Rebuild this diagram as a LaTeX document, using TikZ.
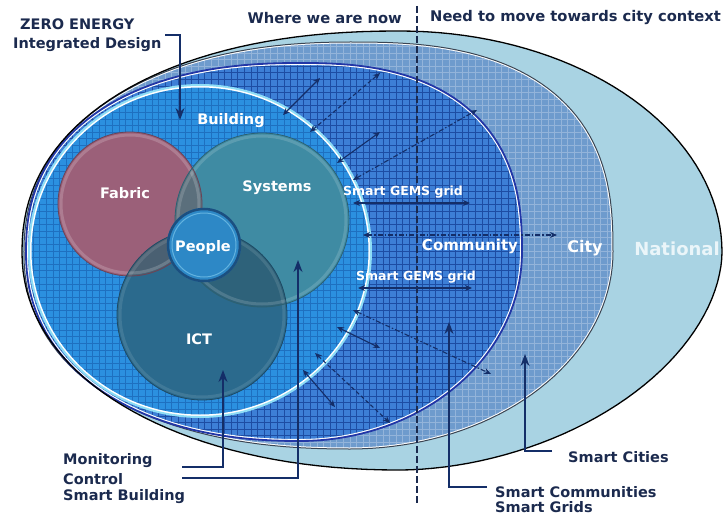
\documentclass[tikz,border=0pt]{standalone}
\usepackage{fontspec}
\setmainfont{DejaVu Sans}
\usetikzlibrary{arrows.meta}
\definecolor{navy}{HTML}{1B2A4E}
\definecolor{arrc}{HTML}{142E68}
\definecolor{natc}{HTML}{A9D3E3}
\definecolor{cityc}{HTML}{6E9BCD}
\definecolor{cityg}{HTML}{93B4DA}
\definecolor{cityb}{HTML}{3A4452}
\definecolor{comc}{HTML}{3D7FD6}
\definecolor{comg}{HTML}{1D4DA3}
\definecolor{comb}{HTML}{2236A6}
\definecolor{bldc}{HTML}{2B90E0}
\definecolor{bldg}{HTML}{1E70C0}
\definecolor{bldb}{HTML}{8EDDF6}
\definecolor{fabc}{HTML}{9B6079}
\definecolor{sysc}{HTML}{3F8BA3}
\definecolor{ictc}{HTML}{2B6A8D}
\definecolor{fsc}{HTML}{5B6F7C}
\definecolor{fic}{HTML}{4A6072}
\definecolor{sic}{HTML}{2E627A}
\definecolor{pplc}{HTML}{2D88C6}
\definecolor{pplb}{HTML}{1B4F80}
\definecolor{natt}{HTML}{EAF5F9}
\newcommand\pw[2]{pow(max(abs(#1),0.0001),#2)}
\tikzset{
 natP/.style={insert path={
  plot[domain=0:90,samples=40,variable=\t]({400+322*\pw{cos(\t)}{1}},{252-221*\pw{sin(\t)}{1}})
  -- plot[domain=90:180,samples=40,variable=\t]({400-378*\pw{cos(\t)}{0.909}},{252-221*\pw{sin(\t)}{0.909}})
  -- plot[domain=180:270,samples=40,variable=\t]({400-378*\pw{cos(\t)}{0.952}},{252+218*\pw{sin(\t)}{0.952}})
  -- plot[domain=270:360,samples=40,variable=\t]({400+322*\pw{cos(\t)}{1.081}},{252+218*\pw{sin(\t)}{1.081}}) -- cycle}},
 cityP/.style={insert path={
  plot[domain=0:90,samples=40,variable=\t]({350+263*\pw{cos(\t)}{0.769}},{252-210*\pw{sin(\t)}{0.769}})
  -- plot[domain=90:180,samples=40,variable=\t]({350-326*\pw{cos(\t)}{0.909}},{252-210*\pw{sin(\t)}{0.909}})
  -- plot[domain=180:270,samples=40,variable=\t]({350-326*\pw{cos(\t)}{0.889}},{252+197*\pw{sin(\t)}{0.889}})
  -- plot[domain=270:360,samples=40,variable=\t]({350+263*\pw{cos(\t)}{1}},{252+197*\pw{sin(\t)}{1}}) -- cycle}},
 comP/.style={insert path={
  plot[domain=0:90,samples=40,variable=\t]({300+222*\pw{cos(\t)}{0.8}},{252-189*\pw{sin(\t)}{0.8}})
  -- plot[domain=90:180,samples=40,variable=\t]({300-274*\pw{cos(\t)}{0.8696}},{252-189*\pw{sin(\t)}{0.8696}})
  -- plot[domain=180:270,samples=40,variable=\t]({300-274*\pw{cos(\t)}{0.909}},{252+189*\pw{sin(\t)}{0.909}})
  -- plot[domain=270:360,samples=40,variable=\t]({300+222*\pw{cos(\t)}{1}},{252+189*\pw{sin(\t)}{1}}) -- cycle}},
 bldP/.style={insert path={(200,251) ellipse[x radius=171pt, y radius=166pt]}},
 lab/.style={inner sep=0pt, anchor=west, text=navy, font=\bfseries\fontsize{14.5}{16}\selectfont},
 wlab/.style={inner sep=0pt, text=white, font=\bfseries\fontsize{14.5}{16}\selectfont},
 slab/.style={inner sep=0pt, text=white, font=\bfseries\fontsize{12.5}{14}\selectfont},
 dbl/.style={arrc, line width=1.1pt, {Stealth[length=7pt,width=6pt]}-{Stealth[length=7pt,width=6pt]}},
 dsh/.style={dash pattern=on 4pt off 2.5pt},
 ddot/.style={dash pattern=on 5pt off 2pt on 1.5pt off 2pt},
 ptr/.style={arrc, line width=1.3pt, -{Stealth[length=12pt,width=9pt]}},
}
\begin{document}
\begin{tikzpicture}[x=1pt,y=-1pt]
\useasboundingbox (0,0) rectangle (725,516);
% National
\fill[natc, natP];
% City
\begin{scope}
 \clip[cityP];
 \fill[cityc] (0,0) rectangle (725,516);
 \draw[cityg, line width=0.5pt] (0,0) grid[step=6.6pt] (725,516);
 \draw[white, line width=3pt, cityP];
\end{scope}
\draw[cityb, line width=1pt, cityP];
% Community
\begin{scope}
 \clip[comP];
 \fill[comc] (0,0) rectangle (725,516);
 \draw[comg, line width=0.5pt] (0,0) grid[step=6.6pt] (725,516);
 \draw[white, line width=4pt, comP];
\end{scope}
\draw[comb, line width=1.8pt, comP];
% Building
\begin{scope}
 \clip[bldP];
 \fill[bldc] (0,0) rectangle (725,516);
 \draw[bldg, line width=0.45pt] (0,0) grid[step=6.6pt] (725,516);
 \draw[white, line width=5pt, bldP];
\end{scope}
\draw[bldb, line width=2pt, bldP];
% National outline
\draw[black, line width=1.3pt, natP];
% Venn circles
\fill[fabc] (130,204) circle[radius=72pt];
\fill[sysc] (262,220) circle[radius=87pt];
\fill[ictc] (202,315) circle[radius=85pt];
\begin{scope}
 \clip (130,204) circle[radius=72pt];
 \fill[fsc] (262,220) circle[radius=87pt];
 \fill[fic] (202,315) circle[radius=85pt];
\end{scope}
\begin{scope}
 \clip (262,220) circle[radius=87pt];
 \fill[sic] (202,315) circle[radius=85pt];
\end{scope}
\draw[white, opacity=0.18, line width=3pt] (130,204) circle[radius=69pt];
\draw[white, opacity=0.15, line width=3pt] (262,220) circle[radius=84pt];
\draw[white, opacity=0.10, line width=3pt] (202,315) circle[radius=82pt];
\draw[fabc!70!black, line width=0.8pt] (130,204) circle[radius=72pt];
\draw[sysc!70!black, line width=0.8pt] (262,220) circle[radius=87pt];
\draw[ictc!70!black, line width=0.8pt] (202,315) circle[radius=85pt];
% People
\fill[pplc] (204,245) circle[radius=37pt];
\draw[pplb, line width=2.5pt] (204,245) circle[radius=36pt];
\draw[cyan!40!white, opacity=0.5, line width=1pt] (204,245) circle[radius=32pt];
% vertical dashed divider
\coordinate (vt) at (417,6);
\coordinate (vb) at (417,505);
\draw[navy, line width=2.3pt, dash pattern=on 7pt off 3pt] (vt) -- (vb);
% diagonal and horizontal double arrows
\coordinate (a1s) at (283,115); \coordinate (a1e) at (320,78);
\coordinate (a2s) at (310,132); \coordinate (a2e) at (380,73);
\coordinate (a3s) at (337,163); \coordinate (a3e) at (380,132);
\coordinate (a4s) at (353,180); \coordinate (a4e) at (477,110);
\coordinate (h1s) at (353,203); \coordinate (h1e) at (470,203);
\coordinate (h2s) at (363,235); \coordinate (h2e) at (557,235);
\coordinate (h3s) at (358,288); \coordinate (h3e) at (472,288);
\coordinate (b1s) at (353,310); \coordinate (b1e) at (491,374);
\coordinate (b2s) at (337,327); \coordinate (b2e) at (380,348);
\coordinate (b3s) at (315,353); \coordinate (b3e) at (390,423);
\coordinate (b4s) at (303,370); \coordinate (b4e) at (335,407);
\draw[dbl] (a1s) -- (a1e);
\draw[dbl, dsh] (a2s) -- (a2e);
\draw[dbl] (a3s) -- (a3e);
\draw[dbl, ddot] (a4s) -- (a4e);
\draw[dbl] (h1s) -- (h1e);
\draw[dbl, ddot] (h2s) -- (h2e);
\draw[dbl] (h3s) -- (h3e);
\draw[dbl, ddot] (b1s) -- (b1e);
\draw[dbl] (b2s) -- (b2e);
\draw[dbl, dsh] (b3s) -- (b3e);
\draw[dbl] (b4s) -- (b4e);
% white labels
\node[wlab] (tbld) at (231,121) {Building};
\node[wlab] (tfab) at (125,193) {Fabric};
\node[wlab] (tsys) at (277,188) {Systems};
\node[wlab] (tppl) at (203,247) {People};
\node[wlab] (tict) at (199,339) {ICT};
\node[slab] (tg1) at (403,192) {Smart GEMS grid};
\node[slab] (tg2) at (416,277) {Smart GEMS grid};
\node[wlab, font=\bfseries\fontsize{15}{16}\selectfont] (tcom) at (470,246) {Community};
\node[wlab, font=\bfseries\fontsize{16}{18}\selectfont] (tcity) at (585,248) {City};
\node[wlab, text=natt, font=\bfseries\fontsize{18}{20}\selectfont] (tnat) at (677,249) {National};
% dark labels
\node[lab] (tze) at (20,24) {ZERO ENERGY};
\node[lab] (tid) at (13,45) {Integrated Design};
\node[lab, anchor=east, font=\bfseries\fontsize{14.7}{16}\selectfont] (twh) at (402,18) {Where we are now};
\node[lab, font=\bfseries\fontsize{14.7}{16}\selectfont] (tnd) at (430,18) {Need to move towards city context};
\node[lab] (tmon) at (63,461) {Monitoring};
\node[lab] (tctl) at (63,479) {Control};
\node[lab] (tsb) at (63,497) {Smart Building};
\node[lab] (tsc) at (568,457) {Smart Cities};
\node[lab] (tscm) at (495,492) {Smart Communities};
\node[lab] (tsg) at (495,507) {Smart Grids};
% pointer arrows
\coordinate (p1a) at (165,35); \coordinate (p1b) at (180,35); \coordinate (p1c) at (180,120);
\draw[ptr] (p1a) -- (p1b) -- (p1c);
\coordinate (p2a) at (182,467); \coordinate (p2b) at (223,467); \coordinate (p2c) at (223,370);
\draw[ptr] (p2a) -- (p2b) -- (p2c);
\coordinate (p3a) at (182,478); \coordinate (p3b) at (298,478); \coordinate (p3c) at (298,260);
\draw[ptr] (p3a) -- (p3b) -- (p3c);
\coordinate (p4a) at (552,451); \coordinate (p4b) at (525,451); \coordinate (p4c) at (525,354);
\draw[ptr] (p4a) -- (p4b) -- (p4c);
\coordinate (p5a) at (487,487); \coordinate (p5b) at (449,487); \coordinate (p5c) at (449,322);
\draw[ptr] (p5a) -- (p5b) -- (p5c);
\end{tikzpicture}
\end{document}
